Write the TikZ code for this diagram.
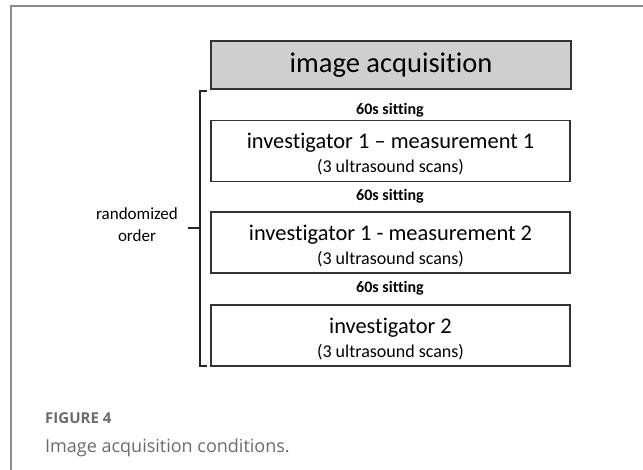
\documentclass[tikz,border=0pt]{standalone}
\usepackage{fontspec}
\setmainfont{Carlito}[Ligatures={NoCommon,NoContextual}]
\newfontfamily\capfont{Open Sans}
\usetikzlibrary{positioning}

\newcommand\boxmain{\fontsize{22.4}{25}\selectfont\rule{0pt}{22pt}}
\newcommand\boxsub{\fontsize{18}{25}\selectfont}

\begin{document}
\begin{tikzpicture}[
    x=1pt, y=-1pt,
    stepbox/.style={draw=black!80, line width=1.3pt, minimum width=359pt, minimum height=61pt, align=center, inner sep=0pt},
    headbox/.style={stepbox, fill=black!19, minimum width=360pt, minimum height=48pt, font=\fontsize{28.5}{32}\selectfont},
    pause/.style={font=\bfseries\fontsize{16}{18}\selectfont},
    bracket/.style={draw=black!85, line width=1.3pt},
    frame/.style={draw=black!45, line width=1.4pt},
    caption/.style={anchor=base west, inner sep=0pt, text=black!58}
]
\useasboundingbox (0,0) rectangle (643,470);

% Frame
\draw[frame] (11,470) -- (11,6) -- (643,6);

% Boxes
\node[headbox] (acq) at (391,65) {image acquisition};
\node[stepbox] (meas1) at (390.5,151) {\boxmain investigator 1 – measurement 1\\[6pt] \boxsub (3 ultrasound scans)};
\node[stepbox] (meas2) at (390.5,242.5) {\boxmain investigator 1 - measurement 2\\[6pt] \boxsub (3 ultrasound scans)};
\node[stepbox] (inv2) at (390.5,335.5) {\boxmain investigator 2\\[6pt] \boxsub (3 ultrasound scans)};

% Pauses
\node[pause] (pause1) at (390,110) {60s sitting};
\node[pause] (pause2) at (390,196) {60s sitting};
\node[pause] (pause3) at (390,288) {60s sitting};

% Bracket
\node[align=center, font=\fontsize{17}{22}\selectfont] (rand) at (137,225) {randomized\\order};
\coordinate (btop) at (200,91);
\coordinate (bbot) at (200,366);
\coordinate (bmid) at (200,228);
\draw[bracket] ([xshift=7pt]btop) -- (btop) -- (bbot) -- ([xshift=7pt]bbot);
\draw[bracket] (bmid) -- ++(-12,0);

% Caption
\node[caption, font=\capfont\bfseries\fontsize{15}{17}\selectfont] (fignum) at (45,424) {FIGURE 4};
\node[caption, font=\capfont\fontsize{18}{20}\selectfont] (captext) at (45,452) {Image acquisition conditions.};

\end{tikzpicture}
\end{document}
